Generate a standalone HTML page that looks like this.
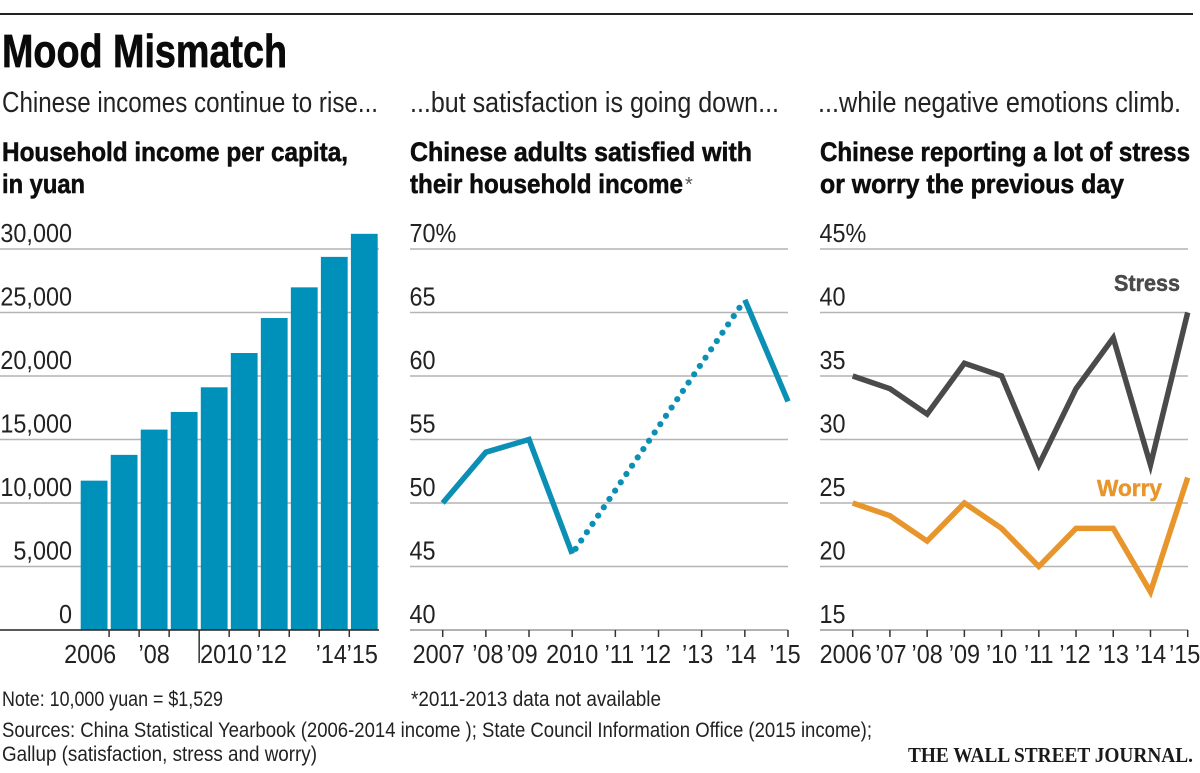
<!DOCTYPE html>
<html lang="en">
<head>
<meta charset="utf-8">
<title>Mood Mismatch</title>
<style>
html,body{margin:0;padding:0;background:#fff;}
svg{display:block;font-family:"Liberation Sans",sans-serif;}
.sub{font-size:29px;fill:#222;}
.head{font-size:27px;font-weight:bold;fill:#0d0d0d;stroke:#0d0d0d;stroke-width:.55px;}
.foot{font-size:21.5px;fill:#222;}
.tick-label{font-size:26px;fill:#222;}
</style>
</head>
<body>
<svg id="chart" xmlns="http://www.w3.org/2000/svg" width="1200" height="773" viewBox="0 0 1200 773">
  <rect x="0" y="0" width="1200" height="773" fill="#fff"/>
  <rect x="0" y="13" width="1193" height="2" fill="#222"/>
  <text x="2" y="67" font-size="46" font-weight="bold" fill="#0a0a0a" stroke="#0a0a0a" stroke-width=".7" textLength="285" lengthAdjust="spacingAndGlyphs">Mood Mismatch</text>

  <text class="sub" x="2" y="112" textLength="376" lengthAdjust="spacingAndGlyphs">Chinese incomes continue to rise...</text>
  <text class="sub" x="410" y="112" textLength="369" lengthAdjust="spacingAndGlyphs">...but satisfaction is going down...</text>
  <text class="sub" x="818" y="112" textLength="363" lengthAdjust="spacingAndGlyphs">...while negative emotions climb.</text>

  <text class="head" x="2" y="161" textLength="346" lengthAdjust="spacingAndGlyphs">Household income per capita,</text>
  <text class="head" x="2" y="193" textLength="83" lengthAdjust="spacingAndGlyphs">in yuan</text>
  <text class="head" x="410" y="161" textLength="342" lengthAdjust="spacingAndGlyphs">Chinese adults satisfied with</text>
  <text class="head" x="410" y="193" textLength="273" lengthAdjust="spacingAndGlyphs">their household income</text>
  <text x="685" y="191" font-size="20" fill="#555">*</text>
  <text class="head" x="820" y="161" textLength="370" lengthAdjust="spacingAndGlyphs">Chinese reporting a lot of stress</text>
  <text class="head" x="820" y="193" textLength="304" lengthAdjust="spacingAndGlyphs">or worry the previous day</text>

  <g id="income-panel"></g>
  <g id="satisfaction-panel"></g>
  <g id="emotion-panel"></g>

  <text class="foot" x="2" y="706" textLength="221" lengthAdjust="spacingAndGlyphs">Note: 10,000 yuan = $1,529</text>
  <text class="foot" x="411" y="706" textLength="250" lengthAdjust="spacingAndGlyphs">*2011-2013 data not available</text>
  <text class="foot" x="2" y="737" textLength="870" lengthAdjust="spacingAndGlyphs">Sources: China Statistical Yearbook (2006-2014 income ); State Council Information Office (2015 income);</text>
  <text class="foot" x="2" y="761" textLength="315" lengthAdjust="spacingAndGlyphs">Gallup (satisfaction, stress and worry)</text>
  <text x="908" y="762" font-family="'Liberation Serif',serif" font-size="21" font-weight="bold" fill="#1a1a1a" textLength="285" lengthAdjust="spacingAndGlyphs">THE WALL STREET JOURNAL.</text>
</svg>
<script>
// ---- data ----
const incomeYears = [2006, 2007, 2008, 2009, 2010, 2011, 2012, 2013, 2014, 2015];
const incomeValues = [11760, 13790, 15780, 17170, 19110, 21810, 24565, 26980, 29380, 31195];
const incomeTicks = [0, 5000, 10000, 15000, 20000, 25000, 30000];
const incomeTickLabels = ['0', '5,000', '10,000', '15,000', '20,000', '25,000', '30,000'];
const incomeYearLabels = ['2006', '', "\u201908", '', '2010', '', "\u201912", '', "\u201914", "\u201915"];

const satisfactionYears = [2007, 2008, 2009, 2010, 2011, 2012, 2013, 2014, 2015];
const satisfactionValues = [50, 54, 55, 46, null, null, null, 66, 58];
const satisfactionTicks = [40, 45, 50, 55, 60, 65, 70];
const satisfactionTickLabels = ['40', '45', '50', '55', '60', '65', '70%'];
const satisfactionYearLabels = ['2007', "\u201908", "\u201909", '2010', "\u201911", "\u201912", "\u201913", "\u201914", "\u201915"];

const emotionYears = [2006, 2007, 2008, 2009, 2010, 2011, 2012, 2013, 2014, 2015];
const stressValues = [35, 34, 32, 36, 35, 28, 34, 38, 28, 40];
const worryValues = [25, 24, 22, 25, 23, 20, 23, 23, 18, 27];
const emotionTicks = [15, 20, 25, 30, 35, 40, 45];
const emotionTickLabels = ['15', '20', '25', '30', '35', '40', '45%'];
const emotionYearLabels = ['2006', "\u201907", "\u201908", "\u201909", "\u201910", "\u201911", "\u201912", "\u201913", "\u201914", "\u201915"];

// ---- drawing helpers ----
const NS = 'http://www.w3.org/2000/svg';
const AXIS_TOP = 249, AXIS_BOTTOM = 630;
const CONDENSE = 0.9;

function make(parent, tag, name, attrs) {
  const el = document.createElementNS(NS, tag);
  
  
  for (const k in attrs) el.setAttribute(k, attrs[k]);
  parent.appendChild(el);
  return el;
}
function setLabel(el, str) {
  el.textContent = str;
  el.setAttribute('textLength', (el.getComputedTextLength() * CONDENSE).toFixed(2));
  el.setAttribute('lengthAdjust', 'spacingAndGlyphs');
}
function yScale(domainMin, domainMax) {
  return v => AXIS_BOTTOM - (v - domainMin) / (domainMax - domainMin) * (AXIS_BOTTOM - AXIS_TOP);
}
function xScale(firstYear, lastYear, x0, x1) {
  return yr => x0 + (yr - firstYear) / (lastYear - firstYear) * (x1 - x0);
}
function drawGrid(parent, prefix, ticks, labels, y, gridX0, gridX1, labelX, anchor) {
  ticks.forEach((t, i) => {
    const gy = y(t);
    if (i > 0) {
      make(parent, 'line', prefix + '-gridline-' + labels[i], {x1: gridX0, x2: gridX1, y1: gy, y2: gy, stroke: '#b4b4b4', 'stroke-width': 1.5});
    }
    const label = make(parent, 'text', prefix + '-y-tick-label-' + labels[i], {x: labelX, y: gy - 7, 'text-anchor': anchor, class: 'tick-label'});
    setLabel(label, labels[i]);
  });
}
function polyPath(xs, ys) {
  return xs.map((x, i) => (i ? 'L' : 'M') + x.toFixed(2) + ' ' + ys[i].toFixed(2)).join(' ');
}

// ---- income bars ----
(function () {
  const g = document.getElementById('income-panel');
  const y = yScale(0, 30000);
  const x = xScale(2006, 2015, 80.7, 350.9);
  const barW = 26.8;
  drawGrid(g, 'income', incomeTicks, incomeTickLabels, y, 0, 379, 72, 'end');
  incomeValues.forEach((v, i) => {
    make(g, 'rect', 'income-bar-' + incomeYears[i], {x: x(incomeYears[i]), y: y(v), width: barW, height: AXIS_BOTTOM - y(v), fill: '#0091bb'});
  });
  make(g, 'line', 'income-x-axis', {x1: 0, x2: 379, y1: AXIS_BOTTOM, y2: AXIS_BOTTOM, stroke: '#222', 'stroke-width': 1.6});
  incomeYears.slice(0, -1).forEach(yr => {
    const tx = x(yr) + barW + 1.6;
    const long = yr === 2009;
    make(g, 'line', 'income-x-tick-' + yr, {x1: tx, x2: tx, y1: AXIS_BOTTOM, y2: long ? 663 : 637, stroke: '#333', 'stroke-width': 1.5});
  });
  const nudge = {'2006': -4, '2010': 12, '\u201912': -3, '\u201914': -3, '\u201915': -2};
  incomeYearLabels.forEach((lab, i) => {
    if (!lab) return;
    const label = make(g, 'text', 'income-x-label-' + incomeYears[i], {x: x(incomeYears[i]) + barW / 2 + (nudge[lab] || 0), y: 663, 'text-anchor': 'middle', class: 'tick-label'});
    setLabel(label, lab);
  });
})();

// ---- satisfaction line ----
(function () {
  const g = document.getElementById('satisfaction-panel');
  const y = yScale(40, 70);
  const x = xScale(2007, 2015, 442.7, 788);
  drawGrid(g, 'satisfaction', satisfactionTicks, satisfactionTickLabels, y, 410, 788, 409.5, 'start');
  make(g, 'line', 'satisfaction-x-axis', {x1: 410, x2: 788, y1: AXIS_BOTTOM, y2: AXIS_BOTTOM, stroke: '#999', 'stroke-width': 1.5});
  satisfactionYears.forEach(yr => {
    make(g, 'line', 'satisfaction-x-tick-' + yr, {x1: x(yr), x2: x(yr), y1: AXIS_BOTTOM, y2: 637, stroke: '#333', 'stroke-width': 1.5});
  });
  const nudge = {'2007': -4, '\u201908': 2, '\u201909': -7, '\u201911': 4, '\u201912': -3, '\u201913': -4, '\u201914': -4, '\u201915': -3};
  satisfactionYearLabels.forEach((lab, i) => {
    const label = make(g, 'text', 'satisfaction-x-label-' + satisfactionYears[i], {x: x(satisfactionYears[i]) + (nudge[lab] || 0), y: 663, 'text-anchor': 'middle', class: 'tick-label'});
    setLabel(label, lab);
  });
  // contiguous runs are solid; gaps in the data are bridged by a dotted line
  let run = [];
  const runs = [];
  satisfactionValues.forEach((v, i) => {
    if (v === null) { if (run.length) runs.push(run); run = []; }
    else run.push(i);
  });
  if (run.length) runs.push(run);
  runs.forEach((r, k) => {
    make(g, 'path', 'satisfaction-line-segment-' + (k + 1), {
      d: polyPath(r.map(i => x(satisfactionYears[i])), r.map(i => y(satisfactionValues[i]))),
      fill: 'none', stroke: '#0c8fb5', 'stroke-width': 5.5, 'stroke-linejoin': 'miter'
    });
    if (k > 0) {
      const a = runs[k - 1][runs[k - 1].length - 1], b = r[0];
      make(g, 'path', 'satisfaction-dotted-gap', {
        d: polyPath([x(satisfactionYears[a]), x(satisfactionYears[b])], [y(satisfactionValues[a]), y(satisfactionValues[b])]),
        fill: 'none', stroke: '#0c8fb5', 'stroke-width': 6.2, 'stroke-linecap': 'round', 'stroke-dasharray': '0 10.05', 'stroke-dashoffset': '-6'
      });
    }
  });
})();

// ---- stress and worry lines ----
(function () {
  const g = document.getElementById('emotion-panel');
  const y = yScale(15, 45);
  const x = xScale(2006, 2015, 852.7, 1187.7);
  drawGrid(g, 'emotion', emotionTicks, emotionTickLabels, y, 820, 1188, 819.5, 'start');
  make(g, 'line', 'emotion-x-axis', {x1: 820, x2: 1188, y1: AXIS_BOTTOM, y2: AXIS_BOTTOM, stroke: '#999', 'stroke-width': 1.5});
  emotionYears.forEach(yr => {
    make(g, 'line', 'emotion-x-tick-' + yr, {x1: x(yr), x2: x(yr), y1: AXIS_BOTTOM, y2: 637, stroke: '#333', 'stroke-width': 1.5});
  });
  const nudge = {'2006': -7, '\u201907': 1, '\u201912': -1, '\u201915': -3};
  emotionYearLabels.forEach((lab, i) => {
    const label = make(g, 'text', 'emotion-x-label-' + emotionYears[i], {x: x(emotionYears[i]) + (nudge[lab] || 0), y: 663, 'text-anchor': 'middle', class: 'tick-label'});
    setLabel(label, lab);
  });
  const xs = emotionYears.map(x);
  make(g, 'path', 'stress-line', {d: polyPath(xs, stressValues.map(y)), fill: 'none', stroke: '#4a4a4a', 'stroke-width': 5.5, 'stroke-linejoin': 'miter'});
  make(g, 'path', 'worry-line', {d: polyPath(xs, worryValues.map(y)), fill: 'none', stroke: '#e8952c', 'stroke-width': 5.5, 'stroke-linejoin': 'miter'});
  const s = make(g, 'text', 'stress-series-label', {x: 1114, y: 291, 'font-size': 23, 'font-weight': 'bold', fill: '#4a4a4a', stroke: '#4a4a4a', 'stroke-width': 0.5, textLength: 66, lengthAdjust: 'spacingAndGlyphs'});
  s.textContent = 'Stress';
  const w = make(g, 'text', 'worry-series-label', {x: 1097, y: 496, 'font-size': 23, 'font-weight': 'bold', fill: '#e8952c', stroke: '#e8952c', 'stroke-width': 0.5, textLength: 65, lengthAdjust: 'spacingAndGlyphs'});
  w.textContent = 'Worry';
})();
</script>
</body>
</html>
